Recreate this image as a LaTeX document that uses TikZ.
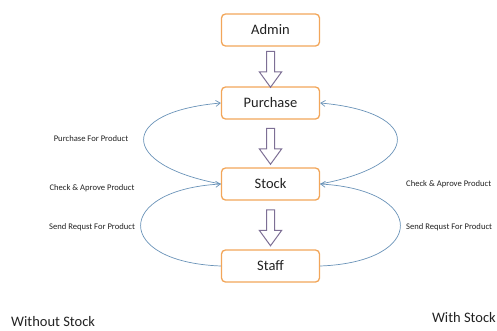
\documentclass[tikz,border=0pt]{standalone}
\usepackage{fontspec}
\setmainfont{Carlito}
\usetikzlibrary{shapes.arrows,arrows.meta,calc}
\definecolor{boxorange}{HTML}{F2A65A}
\definecolor{arrowpurple}{HTML}{7D6F95}
\definecolor{curveblue}{HTML}{6A93B8}
\definecolor{txt}{HTML}{222222}
\tikzset{
  stepbox/.style={draw=boxorange, line width=1.3pt, rounded corners=4pt, fill=white,
    minimum width=98pt, minimum height=32pt, inner sep=0pt,
    font=\fontsize{14.5}{16}\selectfont, text=txt},
  hollowarrow/.style={single arrow, draw=arrowpurple, line width=1pt, fill=white,
    shape border rotate=270, minimum height=36pt, minimum width=19pt,
    inner sep=3.5pt, single arrow tip angle=72},
  flow/.style={draw=curveblue, line width=0.7pt},
  tipend/.style={-{Straight Barb[length=4.5pt,width=6pt]}},
  lbl/.style={font=\fontsize{8.6}{10}\selectfont, text=txt, inner sep=0pt},
  biglbl/.style={font=\fontsize{14.5}{16}\selectfont, text=txt, inner sep=0pt}
}
\begin{document}
\begin{tikzpicture}[x=1pt,y=-1pt]
\useasboundingbox (0,0) rectangle (497,330);
\node[stepbox] (admin) at (270.5,30) {Admin};
\node[stepbox] (purchase) at (270.5,103) {Purchase};
\node[stepbox] (stock) at (270.5,184) {Stock};
\node[stepbox] (staff) at (270.5,266) {Staff};
\node[hollowarrow] (a1) at ($(admin.south)!0.5!(purchase.north)$) {};
\node[hollowarrow] (a2) at ($(purchase.south)!0.5!(stock.north)$) {};
\node[hollowarrow] (a3) at ($(stock.south)!0.5!(staff.north)$) {};
% left curves
\draw[flow,tipend] (stock.west) .. controls (118,165) and (118,112) .. (purchase.west);
\draw[flow,tipend] (staff.west) .. controls (114,262) and (114,190) .. (stock.west);
% right curves
\draw[flow,tipend] (stock.east) .. controls (423,165) and (423,112) .. (purchase.east);
\draw[flow,tipend] (staff.east) .. controls (427,262) and (427,190) .. (stock.east);
% labels
\node[lbl] (l1) at (91,139) {Purchase For Product};
\node[lbl] (l2) at (92,188) {Check \& Aprove Product};
\node[lbl] (l3) at (92,227) {Send Requst For Product};
\node[lbl,anchor=west] (r1) at (406,184) {Check \& Aprove Product};
\node[lbl,anchor=west] (r2) at (406,227) {Send Requst For Product};
\node[biglbl,anchor=west] (wo) at (11,322) {Without Stock};
\node[biglbl,anchor=east] (wi) at (496,318) {With Stock};
\end{tikzpicture}
\end{document}
